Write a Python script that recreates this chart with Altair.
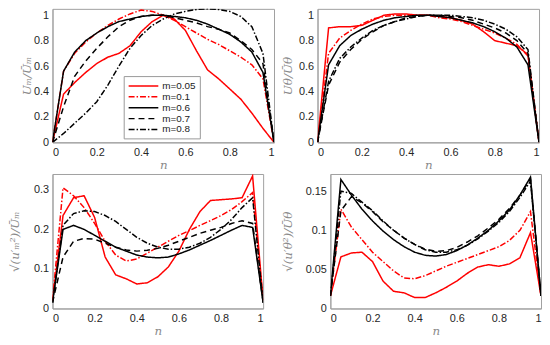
import altair as alt
import pandas as pd

N = [0, 0.05, 0.1, 0.15, 0.2, 0.25, 0.3, 0.35, 0.4, 0.45, 0.5,
     0.55, 0.6, 0.65, 0.7, 0.75, 0.8, 0.85, 0.9, 0.95, 1.0]
SERIES = ["m=0.05", "m=0.1", "m=0.6", "m=0.7", "m=0.8"]

# Top-left: U_m / mean U_m
um_005 = [0, 0.38, 0.47, 0.55, 0.62, 0.67, 0.70, 0.76, 0.87, 0.95, 1.0, 0.97, 0.88, 0.72, 0.57, 0.50, 0.42, 0.34, 0.23, 0.11, 0]
um_01 = [0, 0.56, 0.70, 0.79, 0.86, 0.92, 0.97, 1.01, 1.04, 1.03, 1.0, 0.96, 0.91, 0.86, 0.81, 0.77, 0.72, 0.67, 0.61, 0.50, 0]
um_06 = [0, 0.56, 0.71, 0.80, 0.86, 0.91, 0.95, 0.97, 0.99, 1.0, 1.0, 0.99, 0.98, 0.96, 0.93, 0.89, 0.85, 0.79, 0.71, 0.55, 0]
um_07 = [0, 0.28, 0.52, 0.64, 0.74, 0.83, 0.91, 0.96, 0.99, 1.0, 1.0, 0.98, 0.96, 0.94, 0.91, 0.89, 0.86, 0.80, 0.73, 0.62, 0]
um_08 = [0, 0.07, 0.15, 0.23, 0.32, 0.45, 0.60, 0.74, 0.84, 0.92, 0.97, 1.01, 1.03, 1.045, 1.05, 1.045, 1.03, 0.99, 0.91, 0.70, 0]

# Top-right: U_theta / mean U_theta
ut_005 = [0, 0.90, 0.91, 0.91, 0.92, 0.96, 1.0, 1.01, 1.01, 1.0, 1.0, 0.99, 0.98, 0.96, 0.93, 0.87, 0.80, 0.78, 0.76, 0.69, 0]
ut_01 = [0, 0.70, 0.82, 0.88, 0.93, 0.97, 0.99, 1.0, 1.0, 1.0, 1.0, 0.98, 0.97, 0.95, 0.92, 0.89, 0.86, 0.82, 0.77, 0.68, 0]
ut_06 = [0, 0.61, 0.76, 0.84, 0.89, 0.93, 0.96, 0.98, 0.99, 1.0, 1.0, 0.99, 0.98, 0.96, 0.94, 0.91, 0.87, 0.82, 0.75, 0.61, 0]
ut_07 = [0, 0.45, 0.63, 0.73, 0.81, 0.87, 0.92, 0.95, 0.98, 0.99, 1.0, 1.0, 0.99, 0.98, 0.96, 0.93, 0.90, 0.86, 0.80, 0.70, 0]
ut_08 = [0, 0.48, 0.66, 0.75, 0.82, 0.88, 0.92, 0.95, 0.97, 0.99, 1.0, 1.0, 1.0, 0.99, 0.98, 0.96, 0.93, 0.89, 0.83, 0.73, 0]

# Bottom-left: rms u_m / mean U_m
rm_005 = [0.02, 0.235, 0.28, 0.285, 0.23, 0.13, 0.085, 0.075, 0.062, 0.065, 0.08, 0.105, 0.145, 0.20, 0.245, 0.273, 0.275, 0.277, 0.28, 0.335, 0.02]
rm_01 = [0.02, 0.305, 0.285, 0.255, 0.215, 0.17, 0.135, 0.12, 0.125, 0.14, 0.155, 0.17, 0.185, 0.197, 0.21, 0.222, 0.235, 0.25, 0.27, 0.293, 0.02]
rm_06 = [0.015, 0.20, 0.21, 0.20, 0.185, 0.17, 0.155, 0.145, 0.135, 0.13, 0.128, 0.13, 0.138, 0.148, 0.16, 0.172, 0.185, 0.198, 0.21, 0.205, 0.015]
rm_07 = [0.015, 0.13, 0.17, 0.177, 0.175, 0.165, 0.155, 0.148, 0.145, 0.147, 0.152, 0.16, 0.17, 0.18, 0.19, 0.198, 0.205, 0.215, 0.222, 0.215, 0.015]
rm_08 = [0.015, 0.21, 0.24, 0.247, 0.245, 0.235, 0.22, 0.20, 0.18, 0.165, 0.155, 0.15, 0.15, 0.155, 0.165, 0.18, 0.20, 0.225, 0.255, 0.28, 0.015]

# Bottom-right: rms u_theta / mean U_theta
rt_005 = [0.016, 0.066, 0.071, 0.072, 0.06, 0.035, 0.022, 0.02, 0.014, 0.014, 0.02, 0.027, 0.035, 0.045, 0.053, 0.056, 0.054, 0.057, 0.065, 0.097, 0.016]
rt_01 = [0.016, 0.127, 0.104, 0.088, 0.072, 0.06, 0.048, 0.039, 0.038, 0.042, 0.048, 0.054, 0.059, 0.064, 0.069, 0.074, 0.079, 0.087, 0.10, 0.124, 0.016]
rt_06 = [0.016, 0.165, 0.145, 0.127, 0.112, 0.099, 0.088, 0.079, 0.072, 0.068, 0.067, 0.069, 0.074, 0.081, 0.09, 0.10, 0.112, 0.126, 0.145, 0.168, 0.016]
rt_07 = [0.016, 0.125, 0.143, 0.135, 0.124, 0.111, 0.10, 0.09, 0.082, 0.076, 0.073, 0.074, 0.078, 0.085, 0.093, 0.103, 0.114, 0.128, 0.145, 0.166, 0.016]
rt_08 = [0.016, 0.15, 0.147, 0.136, 0.125, 0.112, 0.10, 0.09, 0.082, 0.075, 0.072, 0.072, 0.075, 0.081, 0.089, 0.099, 0.11, 0.124, 0.142, 0.163, 0.016]

FONT = "Liberation Sans"
TITLE_FONT = "DejaVu Serif"
GRAY = "#8a8a8a"


def frame(series_vals):
    rows = []
    for name, vals in zip(SERIES, series_vals):
        for x, y in zip(N, vals):
            rows.append({"n": x, "v": y, "m": name})
    return pd.DataFrame(rows)


def panel(series_vals, ytitle, ymax, yticks, w, h, legend, tpad=4):
    df = frame(series_vals)
    if legend:
        leg = alt.Legend(title=None, orient="none", legendX=72, legendY=68,
                         symbolType="M-1,0H5", symbolSize=100, symbolStrokeWidth=2,
                         labelFont=FONT, labelFontSize=10, labelColor="#222",
                         fillColor="white", strokeColor="#999", padding=4,
                         rowPadding=0, labelOffset=23, labelLimit=60)
    else:
        leg = None
    return alt.Chart(df).mark_line(clip=True).encode(
        x=alt.X("n:Q", scale=alt.Scale(domain=[0, 1], nice=False),
                axis=alt.Axis(values=[0, 0.2, 0.4, 0.6, 0.8, 1], format="~g",
                              title="n", titleFontStyle="italic", titleFont=TITLE_FONT,
                              titleFontWeight="normal", titleFontSize=12, titleColor=GRAY,
                              titlePadding=2)),
        y=alt.Y("v:Q", scale=alt.Scale(domain=[0, ymax], nice=False),
                axis=alt.Axis(values=yticks, format="~g", title=ytitle,
                              titleFont=TITLE_FONT, titleFontStyle="italic",
                              titleFontWeight="normal", titleFontSize=12, titleColor=GRAY,
                              titlePadding=tpad)),
        color=alt.Color("m:N", scale=alt.Scale(domain=SERIES, range=["#ff0000", "#ff0000", "#000000", "#000000", "#000000"]), legend=leg),
        strokeDash=alt.StrokeDash("m:N", scale=alt.Scale(domain=SERIES, range=[[1, 0], [6, 2, 1.5, 2], [1, 0], [6, 4], [6, 2, 1.5, 2]]), legend=leg),
        strokeWidth=alt.StrokeWidth("m:N", scale=alt.Scale(domain=SERIES, range=[1.5, 1.5, 2.5, 2.2, 2.2]), legend=leg),
        detail="m:N",
    ).properties(width=w, height=h)


p1 = panel([um_005, um_01, um_06, um_07, um_08], "Uₘ/Ūₘ", 1.05, [0, 0.2, 0.4, 0.6, 0.8, 1], 224, 135, True, tpad=0)
p2 = panel([ut_005, ut_01, ut_06, ut_07, ut_08], "Uθ/Ūθ", 1.05, [0, 0.2, 0.4, 0.6, 0.8, 1], 224, 135, False)
p3 = panel([rm_005, rm_01, rm_06, rm_07, rm_08], "√(u′ₘ²)/Ūₘ", 0.34, [0, 0.1, 0.2, 0.3], 213, 136, False, tpad=12)
p4 = panel([rt_005, rt_01, rt_06, rt_07, rt_08], "√(u′θ²)/Ūθ", 0.172, [0, 0.05, 0.1, 0.15], 213, 136, False, tpad=11)

chart = alt.concat(p1, p2, p3, p4, columns=2, align="none", spacing={"row": 2, "column": 6}).resolve_scale(
    color="independent", strokeDash="independent", strokeWidth="independent"
).configure(padding={"left": 0, "top": -2, "right": 0, "bottom": 0}, background="white").configure_view(
    stroke="#a0a0a0", strokeWidth=1
).configure_axis(
    labelFont=FONT, labelFontSize=11, labelColor="#262626", ticks=False,
    labelPadding=4, domainColor="#a0a0a0", grid=False
)

chart.save("out.html", embed_options={"renderer": "svg", "actions": False})
